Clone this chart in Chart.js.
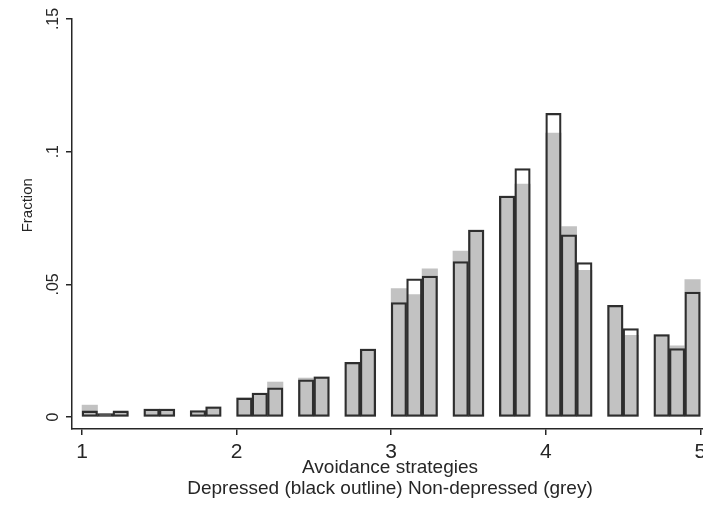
<!DOCTYPE html>
<html><head><meta charset="utf-8">
<script src="https://cdn.jsdelivr.net/npm/chart.js@4/dist/chart.umd.min.js"></script>
<style>
html,body{margin:0;padding:0;background:#fff;overflow:hidden;width:703px;height:505px;}
#wrap{position:relative;width:720px;height:505px;}
</style></head><body>
<div id="wrap"><canvas id="c" width="720" height="505"></canvas></div>
<script>
// Histogram bins (left edges), width 0.1
const binWidth = 0.1;
const binStarts = [1.0,1.1,1.2,1.4,1.5,1.7,1.8,2.0,2.1,2.2,2.4,2.5,2.7,2.8,3.0,3.1,3.2,3.4,3.5,3.7,3.8,4.0,4.1,4.2,4.4,4.5,4.7,4.8,4.9];
// Depressed (black outline)
const depressed = [0.0023,0.0013,0.0023,0.0030,0.0030,0.0024,0.0039,0.0072,0.0090,0.0110,0.0140,0.0152,0.0206,0.0256,0.0431,0.0521,0.0531,0.0586,0.0705,0.0833,0.0936,0.1145,0.0687,0.0582,0.0421,0.0333,0.0311,0.0258,0.0471];
// Non-depressed (grey)
const nonDepressed = [0.0045,0.0012,0.0018,0.0030,0.0030,0.0022,0.0039,0.0072,0.0090,0.0132,0.0147,0.0152,0.0206,0.0256,0.0484,0.0462,0.0559,0.0625,0.0705,0.0833,0.0878,0.1070,0.0718,0.0553,0.0421,0.0308,0.0311,0.0268,0.0518];
const xTicks = [1,2,3,4,5];
const xTickLabels = ['1','2','3','4','5'];
const yTicks = [0,0.05,0.1,0.15];
const yTickLabels = ['0','.05','.1','.15'];
const xTitle = ['Avoidance strategies','Depressed (black outline) Non-depressed (grey)'];
const yTitle = 'Fraction';

const toPts = arr => arr.map((v,i)=>({x: binStarts[i] + binWidth/2, y: v}));
const ink = '#262626';

new Chart(document.getElementById('c'), {
  type: 'bar',
  data: {
    datasets: [
      { label: 'Depressed', data: toPts(depressed), backgroundColor: 'rgba(0,0,0,0)',
        borderColor: '#2e2e2e', borderWidth: 1.6, borderSkipped: false,
        grouped: false, barPercentage: 1, categoryPercentage: 1 },
      { label: 'Non-depressed', data: toPts(nonDepressed), backgroundColor: '#c2c2c2',
        borderColor: '#c2c2c2', borderWidth: 0, borderSkipped: false,
        grouped: false, barPercentage: 1, categoryPercentage: 1 }
    ]
  },
  options: {
    responsive: false, animation: false,
    layout: { padding: { top: 19, right: 12, left: 0, bottom: 0 } },
    plugins: { legend: { display: false }, tooltip: { enabled: false } },
    scales: {
      x: {
        type: 'linear', min: 0.935, max: 5.05, offset: false,
        afterBuildTicks: s => { s.ticks = xTicks.map(v => ({value: v})); },
        afterFit: s => { s.height = 76; },
        ticks: { autoSkip: false, maxRotation: 0, color: ink, padding: 5,
          font: { family: 'Liberation Sans, Arial, sans-serif', size: 21 },
          callback: v => xTickLabels[xTicks.indexOf(v)] },
        grid: { offset: false, drawOnChartArea: false, drawTicks: true, tickLength: 6, color: ink, lineWidth: 1.5 },
        border: { display: true, color: ink, width: 1.5 },
        title: { display: true, text: xTitle, color: ink,
          font: { family: 'Liberation Sans, Arial, sans-serif', size: 19, lineHeight: 1.1 },
          padding: { top: 0, bottom: 6 } }
      },
      y: {
        type: 'linear', min: -0.0045, max: 0.15,
        afterBuildTicks: s => { s.ticks = yTicks.map(v => ({value: v})); },
        afterFit: s => { s.width = 72; },
        ticks: { autoSkip: false, minRotation: 90, maxRotation: 90, crossAlign: 'center', color: ink, padding: 1,
          font: { family: 'Liberation Sans, Arial, sans-serif', size: 16 },
          callback: v => yTickLabels[yTicks.indexOf(v)] },
        grid: { drawOnChartArea: false, drawTicks: true, tickLength: 6, color: ink, lineWidth: 1.5 },
        border: { display: true, color: ink, width: 1.5 },
        title: { display: true, text: '\u00a0'.repeat(9) + yTitle, color: ink,
          font: { family: 'Liberation Sans, Arial, sans-serif', size: 15 },
          padding: { top: 19, bottom: 0 } }
      }
    }
  }
});
</script>
</body></html>
